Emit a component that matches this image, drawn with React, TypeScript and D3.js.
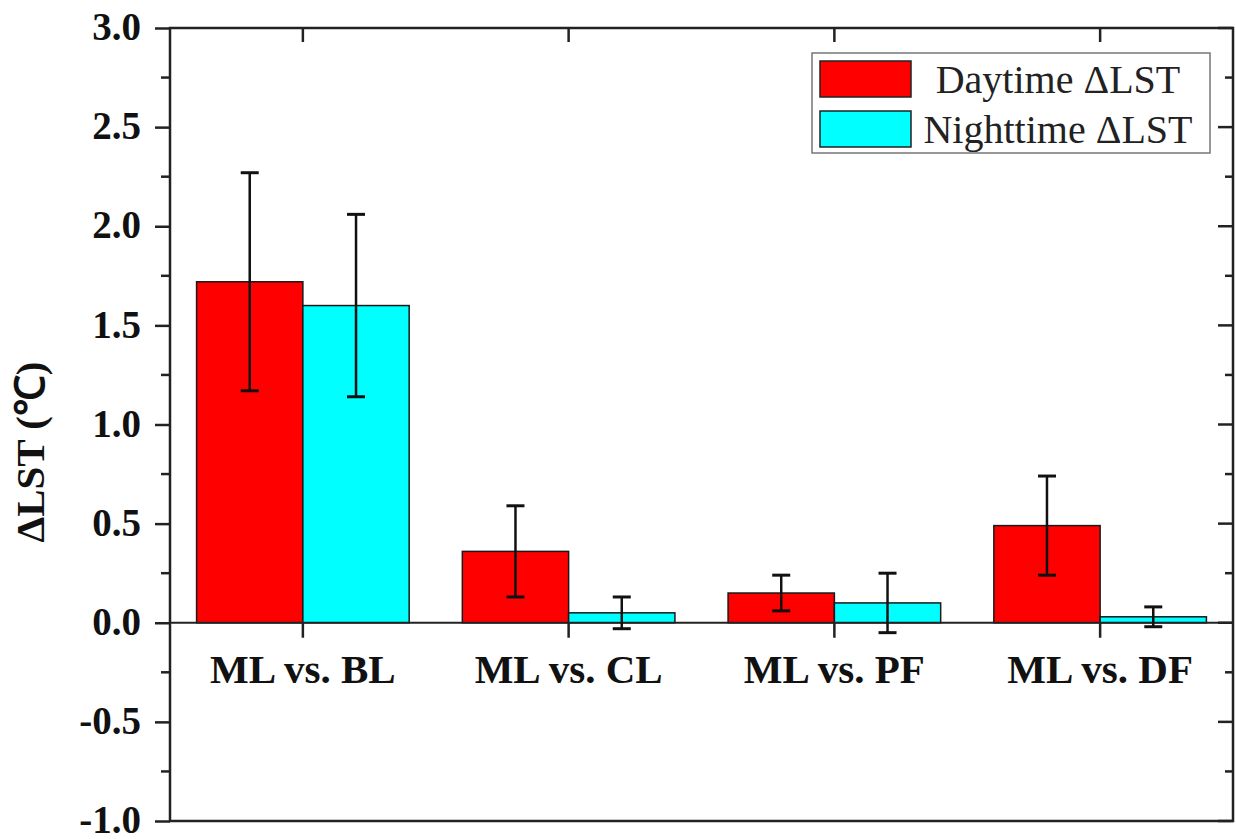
import React from 'react';
import * as d3 from 'd3';

const categories = ['ML vs. BL', 'ML vs. CL', 'ML vs. PF', 'ML vs. DF'];
const seriesNames = ['Daytime ΔLST', 'Nighttime ΔLST'];
const seriesColors = ['#ff0000', '#00ffff'];
const daytime = [1.72, 0.36, 0.15, 0.49];
const daytimeErr = [0.55, 0.23, 0.09, 0.25];
const nighttime = [1.60, 0.05, 0.10, 0.03];
const nighttimeErr = [0.46, 0.08, 0.15, 0.05];
const yTicks = [-1.0, -0.5, 0.0, 0.5, 1.0, 1.5, 2.0, 2.5, 3.0];

const serif = '"Liberation Serif", "Times New Roman", serif';

const App = () => {
  const svgRef = React.useRef(null);

  const W = 1236;
  const H = 839;
  const left = 170, right = 1233, top = 28, bottom = 821;

  React.useEffect(() => {
    const svg = d3.select(svgRef.current);
    svg.selectAll('*').remove();

    const x = d3.scaleBand()
      .domain(categories)
      .range([left, right])
      .paddingInner(0.2)
      .paddingOuter(0.1);
    const xs = d3.scaleBand()
      .domain(['0', '1'])
      .range([0, x.bandwidth()]);
    const y = d3.scaleLinear().domain([-1, 3]).range([bottom, top]);

    const series = [
      { vals: daytime, errs: daytimeErr },
      { vals: nighttime, errs: nighttimeErr },
    ];

    // bars
    series.forEach((s, si) => {
      svg.append('g')
        .selectAll('rect')
        .data(categories)
        .join('rect')
          .attr('x', (d) => x(d) + xs(String(si)))
          .attr('y', (d, i) => y(Math.max(0, s.vals[i])))
          .attr('width', xs.bandwidth())
          .attr('height', (d, i) => Math.abs(y(s.vals[i]) - y(0)))
          .style('fill', seriesColors[si])
          .style('stroke', '#1a1a1a')
          .style('stroke-width', 1.5);
    });

    // zero line
    svg.append('line')
      .attr('x1', left).attr('x2', right)
      .attr('y1', y(0)).attr('y2', y(0))
      .style('stroke', '#222').style('stroke-width', 2);

    // error bars
    series.forEach((s, si) => {
      const g = svg.append('g');
      categories.forEach((c, i) => {
        const cx = x(c) + xs(String(si)) + xs.bandwidth() / 2;
        const hi = y(s.vals[i] + s.errs[i]);
        const lo = y(s.vals[i] - s.errs[i]);
        g.append('line').attr('x1', cx).attr('x2', cx).attr('y1', hi).attr('y2', lo)
          .style('stroke', '#111').style('stroke-width', 2.5);
        [hi, lo].forEach((yy) => {
          g.append('line').attr('x1', cx - 9).attr('x2', cx + 9).attr('y1', yy).attr('y2', yy)
            .style('stroke', '#111').style('stroke-width', 3);
        });
      });
    });

    // category ticks (bottom at zero line, top inward)
    categories.forEach((c) => {
      const cx = x(c) + x.bandwidth() / 2;
      svg.append('line').attr('x1', cx).attr('x2', cx).attr('y1', y(0)).attr('y2', y(0) + 15)
        .style('stroke', '#222').style('stroke-width', 2.5);
      svg.append('line').attr('x1', cx).attr('x2', cx).attr('y1', top).attr('y2', top + 14)
        .style('stroke', '#222').style('stroke-width', 2.5);
      svg.append('text')
        .attr('x', cx).attr('y', y(0) + 60)
        .attr('text-anchor', 'middle')
        .style('font-family', serif)
        .style('font-weight', 'bold')
        .style('font-size', '41px')
        .style('fill', '#111')
        .text(c);
    });

    // left axis
    const minor = d3.range(-0.75, 3, 0.5);
    svg.append('g')
      .attr('transform', `translate(${left},0)`)
      .style('font-size', '39px')
      .style('font-family', serif)
      .style('font-weight', 'bold')
      .call(d3.axisLeft(y).tickValues(yTicks).tickSize(15).tickPadding(14)
        .tickFormat((d) => d3.format('.1f')(d).replace('−', '-')))
      .call((g) => g.select('.domain').remove())
      .call((g) => g.selectAll('.tick line').style('stroke', '#222').style('stroke-width', 2.5))
      .call((g) => g.selectAll('.tick text').style('fill', '#111').attr('dy', '0.3em'));
    svg.append('g')
      .selectAll('line')
      .data(minor)
      .join('line')
        .attr('x1', left - 9).attr('x2', left)
        .attr('y1', (d) => y(d)).attr('y2', (d) => y(d))
        .style('stroke', '#222').style('stroke-width', 2.5);

    // right axis ticks (inward)
    svg.append('g')
      .selectAll('line')
      .data(yTicks.concat(minor))
      .join('line')
        .attr('x1', (d) => (yTicks.includes(d) ? right - 15 : right - 8)).attr('x2', right)
        .attr('y1', (d) => y(d)).attr('y2', (d) => y(d))
        .style('stroke', '#222').style('stroke-width', 2.5);

    // frame
    svg.append('rect')
      .attr('x', left).attr('y', top)
      .attr('width', right - left).attr('height', bottom - top)
      .style('fill', 'none').style('stroke', '#222').style('stroke-width', 2.5);

    // y title
    svg.append('text')
      .attr('transform', `translate(44,452) rotate(-90)`)
      .attr('text-anchor', 'middle')
      .style('font-family', serif)
      .style('font-weight', 'bold')
      .style('font-size', '41px')
      .style('fill', '#111')
      .text('ΔLST (℃)');

    // legend
    const lg = svg.append('g');
    lg.append('rect')
      .attr('x', 812).attr('y', 53).attr('width', 398).attr('height', 100)
      .style('fill', '#fff').style('stroke', '#777').style('stroke-width', 1.5);
    seriesNames.forEach((n, i) => {
      lg.append('rect')
        .attr('x', 820).attr('y', 61 + i * 50).attr('width', 91).attr('height', 36)
        .style('fill', seriesColors[i]).style('stroke', '#222').style('stroke-width', 1.5);
      lg.append('text')
        .attr('x', 1058).attr('y', 93 + i * 50)
        .attr('text-anchor', 'middle')
        .style('font-family', serif)
        .style('font-size', '40px')
        .style('fill', '#222')
        .text(n);
    });
  }, []);

  return (
    <svg
      ref={svgRef}
      width={W}
      height={H}
      style={{ position: 'absolute', left: 0, top: 0, background: '#fff' }}
    />
  );
};

export default App;
